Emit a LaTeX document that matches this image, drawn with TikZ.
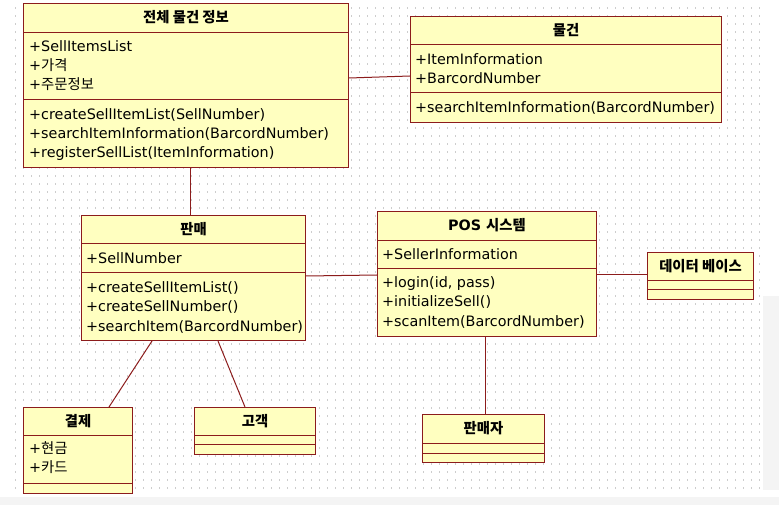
\documentclass[tikz,border=0pt]{standalone}
\usepackage{fontspec}
\setmainfont{DejaVu Sans}
\newfontfamily\kr{Noto Sans CJK KR}
\definecolor{clsfill}{RGB}{255,255,192}
\definecolor{clsline}{RGB}{140,28,28}
\definecolor{gridc}{RGB}{205,205,205}
\definecolor{panel}{RGB}{244,244,244}
\begin{document}
\begin{tikzpicture}[x=1bp,y=-1bp,
 cls/.style={draw=clsline, fill=clsfill, line width=1bp, rectangle, inner sep=0pt, anchor=north west},
 divider/.style={draw=clsline, line width=0.8bp},
 txt/.style={anchor=west, inner sep=0pt, text height=10.5bp, text depth=0pt, font=\fontsize{14.4}{16}\selectfont},
 ttl/.style={anchor=center, inner sep=0pt, text height=10.5bp, text depth=0pt, font=\fontsize{14.4}{16}\selectfont\bfseries},
 assoc/.style={draw=clsline, line width=1bp}]
\useasboundingbox (0,0) rectangle (779,505);
\fill[white] (0,0) rectangle (779,505);
% screenshot background artifacts
\fill[panel] (763,296) rectangle (779,490);
\fill[panel] (0,497) rectangle (779,505);
% dotted grid
\foreach \yy in {8,16,...,488}
  \draw[gridc, line width=1.1bp, dash pattern=on 1.1bp off 6.9bp] (15,\yy) -- (760,\yy);

% ---------- class boxes ----------
\node[cls, minimum width=325bp, minimum height=164bp] (info) at (23,3) {};
\node[cls, minimum width=311bp, minimum height=106bp] (item) at (410,16) {};
\node[cls, minimum width=224bp, minimum height=125bp] (sale) at (81,215) {};
\node[cls, minimum width=219bp, minimum height=125bp] (pos) at (377,211) {};
\node[cls, minimum width=106bp, minimum height=47bp] (db) at (647,252) {};
\node[cls, minimum width=122bp, minimum height=48bp] (seller) at (422,414) {};
\node[cls, minimum width=109bp, minimum height=86bp] (pay) at (23,407) {};
\node[cls, minimum width=121bp, minimum height=47bp] (cust) at (194,407) {};

% ---------- connectors ----------
\draw[assoc] (info.east |- 0,78) -- (item.west |- 0,76);
\draw[assoc] (info.south -| 190,0) -- (sale.north -| 190,0);
\draw[assoc] (sale.east |- 0,276) -- (pos.west |- 0,275);
\draw[assoc] (pos.east |- 0,275) -- (db.west |- 0,275);
\draw[assoc] (pos.south -| 485,0) -- (seller.north -| 485,0);
\draw[assoc] (sale.south -| 152,0) -- (pay.north -| 109,0);
\draw[assoc] (sale.south -| 218,0) -- (cust.north -| 245,0);

% ---------- dividers ----------
\draw[divider] (info.west |- 0,32) -- (info.east |- 0,32);
\draw[divider] (info.west |- 0,99) -- (info.east |- 0,99);
\draw[divider] (item.west |- 0,44) -- (item.east |- 0,44);
\draw[divider] (item.west |- 0,92) -- (item.east |- 0,92);
\draw[divider] (sale.west |- 0,243) -- (sale.east |- 0,243);
\draw[divider] (sale.west |- 0,272) -- (sale.east |- 0,272);
\draw[divider] (pos.west |- 0,240) -- (pos.east |- 0,240);
\draw[divider] (pos.west |- 0,268) -- (pos.east |- 0,268);
\draw[divider] (db.west |- 0,280) -- (db.east |- 0,280);
\draw[divider] (db.west |- 0,289) -- (db.east |- 0,289);
\draw[divider] (seller.west |- 0,443) -- (seller.east |- 0,443);
\draw[divider] (seller.west |- 0,453) -- (seller.east |- 0,453);
\draw[divider] (pay.west |- 0,435) -- (pay.east |- 0,435);
\draw[divider] (pay.west |- 0,483) -- (pay.east |- 0,483);
\draw[divider] (cust.west |- 0,435) -- (cust.east |- 0,435);
\draw[divider] (cust.west |- 0,444) -- (cust.east |- 0,444);

% ---------- titles ----------
\node[ttl] (infoT) at (info.north |- 0,17) {\kr 전체 물건 정보};
\node[ttl] (itemT) at (item.north |- 0,30) {\kr 물건};
\node[ttl] (saleT) at (sale.north |- 0,229) {\kr 판매};
\node[ttl] (posT) at (pos.north |- 0,225) {POS {\kr 시스템}};
\node[ttl] (dbT) at (db.north |- 0,266) {\kr 데이터 베이스};
\node[ttl] (sellerT) at (seller.north |- 0,428) {\kr 판매자};
\node[ttl] (payT) at (pay.north |- 0,421) {\kr 결제};
\node[ttl] (custT) at (cust.north |- 0,421) {\kr 고객};

% ---------- members ----------
\node[txt] (i1) at (29,46) {+SellItemsList};
\node[txt] (i2) at (29,65) {+{\kr 가격}};
\node[txt] (i3) at (29,84) {+{\kr 주문정보}};
\node[txt] (i4) at (29,114) {+createSellItemList(SellNumber)};
\node[txt] (i5) at (29,133) {+searchItemInformation(BarcordNumber)};
\node[txt] (i6) at (29,152) {+registerSellList(ItemInformation)};

\node[txt] (m1) at (415,59) {+ItemInformation};
\node[txt] (m2) at (415,78) {+BarcordNumber};
\node[txt] (m3) at (415,107) {+searchItemInformation(BarcordNumber)};

\node[txt] (s1) at (86,258) {+SellNumber};
\node[txt] (s2) at (86,287) {+createSellItemList()};
\node[txt] (s3) at (86,306) {+createSellNumber()};
\node[txt] (s4) at (86,326) {+searchItem(BarcordNumber)};

\node[txt] (p1) at (382,254) {+SellerInformation};
\node[txt] (p2) at (382,282) {+login(id, pass)};
\node[txt] (p3) at (382,301) {+initializeSell()};
\node[txt] (p4) at (382,321) {+scanItem(BarcordNumber)};

\node[txt] (c1) at (29,448) {+{\kr 현금}};
\node[txt] (c2) at (29,467) {+{\kr 카드}};
\end{tikzpicture}
\end{document}
